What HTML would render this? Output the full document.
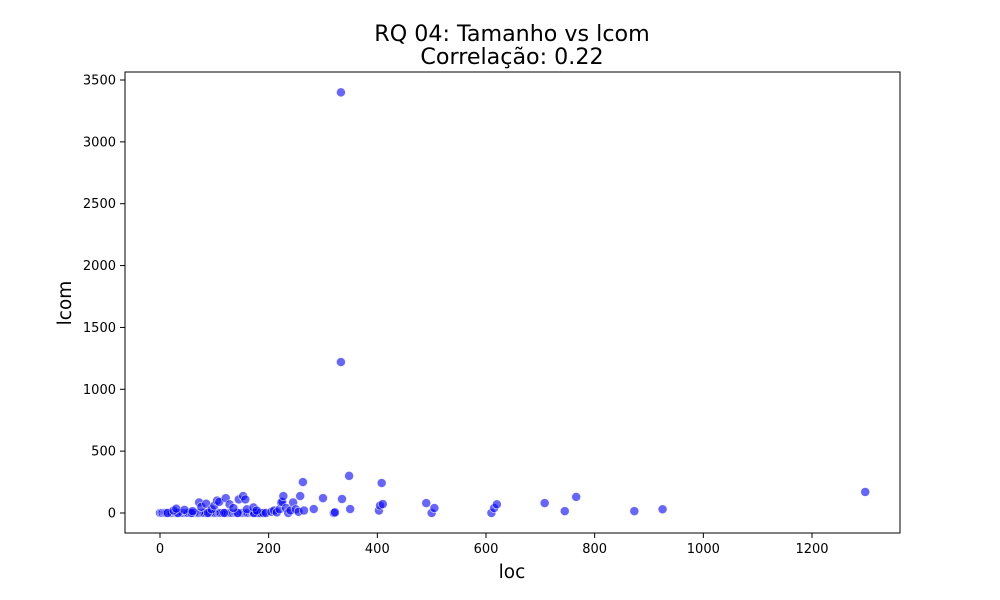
<!DOCTYPE html>
<html><head><meta charset="utf-8"><style>
body{margin:0;background:#fff;}
svg{display:block;font-family:"DejaVu Sans","Liberation Sans",sans-serif;}
</style></head><body>
<svg id="chart" width="1000" height="600">
<text x="512" y="41" font-size="22.2" text-anchor="middle">RQ 04: Tamanho vs lcom</text>
<text x="512" y="64" font-size="22.2" text-anchor="middle">Correlação: 0.22</text>
<g id="points"></g>
<rect x="125" y="72" width="775" height="461" fill="none" stroke="#000" stroke-width="1"/>
<g id="xaxis"></g>
<g id="yaxis"></g>
<text x="512" y="578" font-size="18.5" text-anchor="middle">loc</text>
<text transform="translate(71,303) rotate(-90)" font-size="18.5" text-anchor="middle">lcom</text>
</svg>
<script>
const locValues = [0,3,5,8,10,12,15,18,20,22,25,28,30,32,35,38,40,42,45,48,50,52,55,58,60,62,65,68,70,72,75,78,80,82,85,88,90,92,95,98,100,102,105,108,110,112,115,118,120,122,125,128,130,132,135,138,140,142,145,148,150,152,155,158,160,162,165,168,170,172,175,178,180,185,190,195,
 14,33,58,88,118,143,173,
 25,30,45,60,72,76,85,95,100,105,109,121,128,135,145,153,157,160,172,178,
 205,210,215,220,223,225,227,232,236,240,245,250,255,258,263,265,283,300,320,322,335,348,350,333,333,403,405,408,410,490,500,505,610,615,620,708,745,766,873,925,1298];
const lcomValues = [0,0,0,0,0,0,0,0,0,0,0,0,0,0,0,0,0,0,0,0,0,0,0,0,0,0,0,0,0,0,0,0,0,0,0,0,0,0,0,0,0,0,0,0,0,0,0,0,0,0,0,0,0,0,0,0,0,0,0,0,0,0,0,0,0,0,0,0,0,0,0,0,0,0,0,0,
 0,0,0,0,0,0,0,
 20,35,25,15,85,50,75,30,60,100,90,120,70,40,110,137,110,30,45,20,
 10,20,5,30,85,90,137,40,0,20,85,30,10,137,250,20,32,120,0,5,113,300,32,3400,1220,20,60,242,72,80,0,40,0,40,70,80,15,130,15,30,170];
const xTicks = [0,200,400,600,800,1000,1200];
const yTicks = [0,500,1000,1500,2000,2500,3000,3500];
const NS='http://www.w3.org/2000/svg';
function xs(v){return 160 + v*(652/1200);}
function ys(v){return 513 - v*(433/3500);}
const pg=document.getElementById('points');
for(let i=0;i<locValues.length;i++){
  const c=document.createElementNS(NS,'circle');
  c.setAttribute('cx',xs(locValues[i]));c.setAttribute('cy',ys(lcomValues[i]));
  c.setAttribute('r',4.5);c.setAttribute('fill','rgba(0,0,255,0.6)');
  c.setAttribute('stroke','rgba(255,255,255,0.8)');c.setAttribute('stroke-width','0.6');
  
  
  pg.appendChild(c);
}
const xg=document.getElementById('xaxis');
xTicks.forEach(t=>{
  const x=xs(t);
  const l=document.createElementNS(NS,'line');
  l.setAttribute('x1',x);l.setAttribute('x2',x);l.setAttribute('y1',533);l.setAttribute('y2',538);l.setAttribute('stroke','#000');
  
  
  xg.appendChild(l);
  const tx=document.createElementNS(NS,'text');
  tx.setAttribute('x',x);tx.setAttribute('y',553);tx.setAttribute('font-size','13');tx.setAttribute('text-anchor','middle');
  tx.textContent=t;
  
  
  xg.appendChild(tx);
});
const yg=document.getElementById('yaxis');
yTicks.forEach(t=>{
  const y=ys(t);
  const l=document.createElementNS(NS,'line');
  l.setAttribute('x1',120);l.setAttribute('x2',125);l.setAttribute('y1',y);l.setAttribute('y2',y);l.setAttribute('stroke','#000');
  
  
  yg.appendChild(l);
  const tx=document.createElementNS(NS,'text');
  tx.setAttribute('x',116);tx.setAttribute('y',y+4.5);tx.setAttribute('font-size','13');tx.setAttribute('text-anchor','end');
  tx.textContent=t;
  
  
  yg.appendChild(tx);
});
</script>
</body></html>
